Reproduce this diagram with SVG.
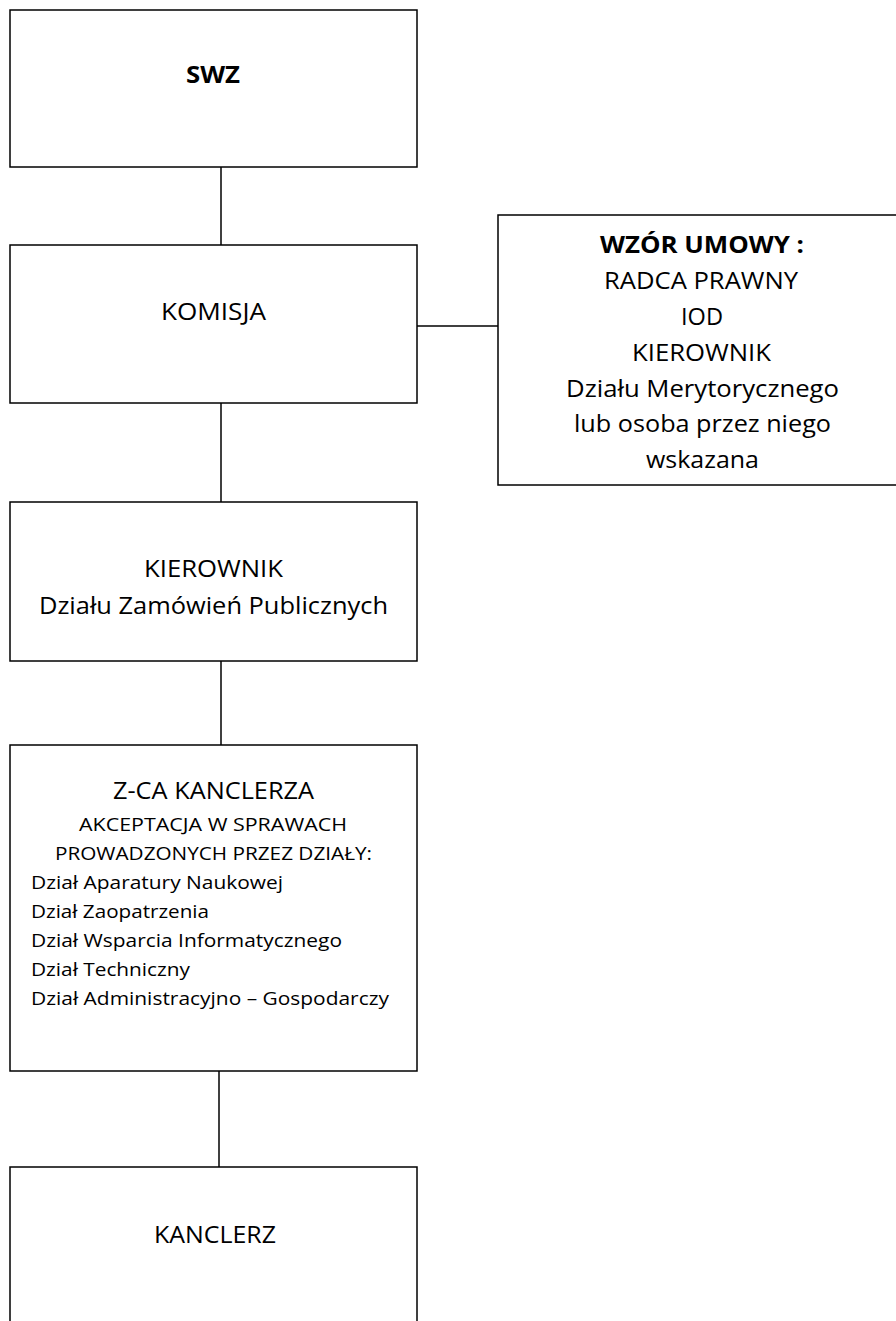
<svg xmlns="http://www.w3.org/2000/svg" width="896" height="1321" viewBox="0 0 896 1321">
<style>
.box{fill:#fff;stroke:#000;stroke-width:1.5}
.ln{stroke:#000;stroke-width:1.5;fill:none}
text{font-family:"Open Sans","Noto Sans",sans-serif;fill:#000}
.c{text-anchor:middle}
.big{font-size:23px}
.sm{font-size:19px}
.b{font-weight:bold}
</style>
<rect width="896" height="1321" fill="#fff"/>
<g id="connectors">
<line class="ln" x1="221" y1="167" x2="221" y2="245"/>
<line class="ln" x1="221" y1="403" x2="221" y2="502"/>
<line class="ln" x1="221" y1="661" x2="221" y2="745"/>
<line class="ln" x1="219" y1="1071" x2="219" y2="1167"/>
<line class="ln" x1="417" y1="326" x2="498" y2="326"/>
</g>
<g id="swz">
<rect class="box" x="10" y="10" width="407" height="157"/>
<text class="big b" x="186" y="83" font-size="26" textLength="54" lengthAdjust="spacingAndGlyphs">SWZ</text>
</g>
<g id="komisja">
<rect class="box" x="10" y="245" width="407" height="158"/>
<text class="big" x="161" y="320" textLength="105" lengthAdjust="spacingAndGlyphs">KOMISJA</text>
</g>
<g id="wzor">
<rect class="box" x="498" y="215" width="420" height="270"/>
<text class="big b" x="600" y="253" textLength="204" lengthAdjust="spacingAndGlyphs">WZÓR UMOWY :</text>
<text class="big" x="604" y="289" textLength="194" lengthAdjust="spacingAndGlyphs">RADCA PRAWNY</text>
<text class="big" x="681" y="325" textLength="42" lengthAdjust="spacingAndGlyphs">IOD</text>
<text class="big" x="632" y="361" textLength="139" lengthAdjust="spacingAndGlyphs">KIEROWNIK</text>
<text class="big" x="566" y="397" textLength="273" lengthAdjust="spacingAndGlyphs">Działu Merytorycznego</text>
<text class="big" x="574" y="432" textLength="257" lengthAdjust="spacingAndGlyphs">lub osoba przez niego</text>
<text class="big" x="646" y="468" textLength="113" lengthAdjust="spacingAndGlyphs">wskazana</text>
</g>
<g id="kierownik-dzp">
<rect class="box" x="10" y="502" width="407" height="159"/>
<text class="big" x="144" y="577" textLength="139" lengthAdjust="spacingAndGlyphs">KIEROWNIK</text>
<text class="big" x="39" y="614" textLength="349" lengthAdjust="spacingAndGlyphs">Działu Zamówień Publicznych</text>
</g>
<g id="zca">
<rect class="box" x="10" y="745" width="407" height="326"/>
<text class="big" x="113" y="799" textLength="201" lengthAdjust="spacingAndGlyphs">Z-CA KANCLERZA</text>
<text class="sm" x="79" y="831" textLength="268" lengthAdjust="spacingAndGlyphs">AKCEPTACJA W SPRAWACH</text>
<text class="sm" x="55" y="860" textLength="317" lengthAdjust="spacingAndGlyphs">PROWADZONYCH PRZEZ DZIAŁY:</text>
<text class="sm" x="31" y="889" textLength="252" lengthAdjust="spacingAndGlyphs">Dział Aparatury Naukowej</text>
<text class="sm" x="31" y="918" textLength="178" lengthAdjust="spacingAndGlyphs">Dział Zaopatrzenia</text>
<text class="sm" x="31" y="947" textLength="311" lengthAdjust="spacingAndGlyphs">Dział Wsparcia Informatycznego</text>
<text class="sm" x="31" y="976" textLength="159" lengthAdjust="spacingAndGlyphs">Dział Techniczny</text>
<text class="sm" x="31" y="1005" textLength="358" lengthAdjust="spacingAndGlyphs">Dział Administracyjno – Gospodarczy</text>
</g>
<g id="kanclerz">
<rect class="box" x="10" y="1167" width="407" height="200"/>
<text class="big" x="154" y="1243" textLength="122" lengthAdjust="spacingAndGlyphs">KANCLERZ</text>
</g>
</svg>
